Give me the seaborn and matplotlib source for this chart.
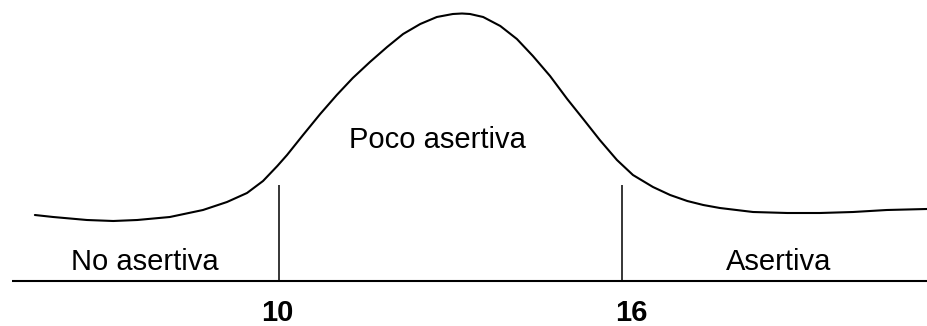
import numpy as np
import pandas as pd
import matplotlib
matplotlib.use("Agg")
import matplotlib.pyplot as plt
import seaborn as sns

# Curve: score vs. height above the baseline
scores = [5.73, 6.05, 6.64, 7.10, 7.52, 8.09, 8.67, 9.09, 9.44, 9.72, 9.97,
          10.14, 10.42, 10.72, 11.01, 11.29, 11.59, 11.89, 12.17, 12.47, 12.76,
          13.04, 13.20, 13.34, 13.57, 13.87, 14.16, 14.44, 14.74, 15.04, 15.32,
          15.61, 15.91, 16.19, 16.54, 16.84, 17.14, 17.42, 17.71, 18.29, 18.89,
          19.46, 20.04, 20.63, 21.33]
heights = [66, 64, 61, 60, 61, 64, 71, 79, 88, 100, 115,
           126, 146, 167, 186, 203, 219, 234, 247, 257, 264,
           267, 267.5, 267, 264, 255, 242, 225, 205, 182, 162,
           141, 121, 106, 94, 86, 80, 76, 73, 69, 68,
           68, 69, 71, 72]

cut_points = [10, 16]
cut_labels = ["10", "16"]
zone_labels = ["No asertiva", "Poco asertiva", "Asertiva"]

df = pd.DataFrame({"score": scores, "height": heights})

sns.set_style("white")
plt.rcParams['font.family'] = ['Liberation Sans', 'DejaVu Sans']

fig = plt.figure(figsize=(9.28, 3.26), dpi=100)
ax = fig.add_axes([0, 0, 1, 1])

# Bell curve
sns.lineplot(data=df, x="score", y="height", color="black", linewidth=1.5,
             solid_joinstyle="round", ax=ax)

# Baseline and cut lines
ax.hlines(0, 5.33, 21.4, color="black", linewidth=1.5)
ax.vlines(cut_points, 0, 96, color="black", linewidth=1.1)

# Cut point labels
ax.text(cut_points[0] - 0.03, -40, cut_labels[0], ha="center", va="baseline",
        fontsize=21, fontweight="bold", color="black")
ax.text(cut_points[1] + 0.16, -40, cut_labels[1], ha="center", va="baseline",
        fontsize=21, fontweight="bold", color="black")

# Zone labels
ax.text(7.66, 11, zone_labels[0], ha="center", va="baseline", fontsize=21, color="black")
ax.text(12.77, 133, zone_labels[1], ha="center", va="baseline", fontsize=21, color="black")
ax.text(18.74, 11, zone_labels[2], ha="center", va="baseline", fontsize=21, color="black")

ax.set_xlim(5.12, 21.35)
ax.set_ylim(-45, 281)
ax.axis("off")

fig.savefig("out.png", dpi=100, facecolor="white")
